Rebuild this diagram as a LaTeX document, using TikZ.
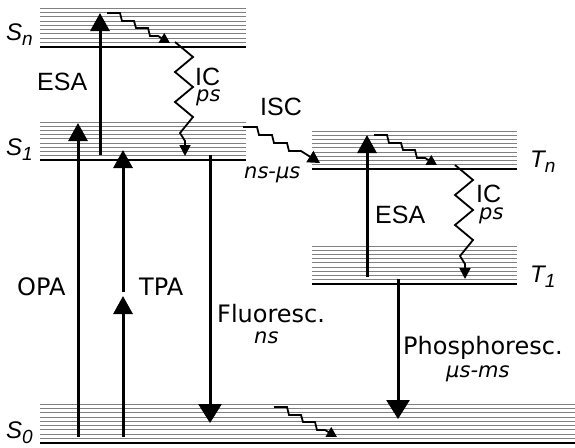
\documentclass[tikz,border=0pt]{standalone}
\usepackage{fontspec}
\setmainfont{DejaVu Sans}
\newfontfamily\helvfont{Liberation Sans}
\usetikzlibrary{arrows.meta}
% energy level with its vibrational sublevels: x left, x right, y of the level
\newcommand{\enlevel}[3]{%
  \foreach \k in {0,...,8}
    \draw[sublevel] (#1,{#3-38+\k*4.22}) -- (#2,{#3-38+\k*4.22});
  \draw[level] (#1,#3) -- (#2,#3);}
% vibrational relaxation staircase
\newcommand{\stairs}[1]{\draw[vibr] #1 -- ++(13,0) -- ++(2,8) -- ++(12,0) -- ++(2,7) -- ++(12,0) -- ++(2,8) -- ++(8,0) -- ++(12,7);}
% internal conversion zigzag
\newcommand{\zigzag}[1]{\draw[icpath] #1 -- ++(18,15) -- ++(-18,15) -- ++(18,15) -- ++(-18,15) -- ++(18,15) -- ++(-13,16) -- ++(5,8) -- ++(0,15);}
\newcommand{\statename}[2]{#1\raisebox{-5pt}{\fontsize{19}{19}\selectfont #2}}
\begin{document}
\begin{tikzpicture}[x=1pt,y=-1pt,
  sublevel/.style={draw=gray,line width=0.9pt},
  level/.style={line width=2pt},
  absorb/.style={line width=3pt,-{Triangle[width=19pt,length=18pt]}},
  emit/.style={line width=3pt,-{Triangle[width=23pt,length=19pt]}},
  vibr/.style={line width=1.8pt,-{Triangle[width=11pt,length=10pt]}},
  icpath/.style={line width=1.8pt,-{Triangle[width=11pt,length=11pt]}},
  helvtext/.style={font=\helvfont\fontsize{25}{29}\selectfont,inner sep=0pt,anchor=base west},
  dvtext/.style={font=\fontsize{24}{28}\selectfont,inner sep=0pt,anchor=base west},
  timetext/.style={font=\itshape\fontsize{21}{25}\selectfont,inner sep=0pt,anchor=base west},
  statetext/.style={font=\helvfont\itshape\fontsize{24}{28}\selectfont,inner sep=0pt,anchor=base west}]
\useasboundingbox (0,0) rectangle (575,447);
% levels
\enlevel{40}{246}{46.5}
\enlevel{40}{246}{160}
\enlevel{40}{575}{442.5}
\enlevel{312}{517}{169}
\enlevel{312}{517}{284}
% state labels
\node[statetext] (sn) at (6,40) {\statename{S}{n}};
\node[statetext] (s1) at (6,155) {\statename{S}{1}};
\node[statetext] (s0) at (6,438) {\statename{S}{0}};
\node[statetext] (tn) at (530,167) {\statename{T}{n}};
\node[statetext] (t1) at (530,282) {\statename{T}{1}};
% radiative transitions
\draw[absorb] (78,437) -- (78,123);
\draw[absorb] (100,155) -- (100,13);
\draw[absorb] (123,437) -- (123,296);
\draw[absorb] (123,292) -- (123,150);
\draw[emit] (210,155) -- (210,423);
\draw[absorb] (367,277) -- (367,135);
\draw[emit] (398,279) -- (398,419);
% non-radiative transitions
\stairs{(107,13)}
\stairs{(374,135)}
\stairs{(274,407)}
\draw[vibr,-{Triangle[width=13pt,length=12pt]}] (243,127) -- ++(14,0) -- ++(2,8) -- ++(13,0) -- ++(2,8) -- ++(13,0) -- ++(2,8) -- ++(12,0) -- (320,163);
\zigzag{(175,42)}
\zigzag{(455,165)}
% labels
\node[helvtext] (esas) at (37,90) {ESA};
\node[helvtext] (ics) at (195,85) {IC};
\node[timetext] (pss) at (196,101) {ps};
\node[helvtext] (isc) at (260,115.5) {ISC};
\node[timetext] (iscps) at (244,178) {ns-µs};
\node[helvtext] (esat) at (375,223) {ESA};
\node[helvtext] (ict) at (476,202) {IC};
\node[timetext] (pst) at (479,219) {ps};
\node[dvtext] (opa) at (17,295) {OPA};
\node[dvtext] (tpa) at (139,295) {TPA};
\node[dvtext] (fluo) at (217,322) {Fluoresc.};
\node[timetext] (fluot) at (254,343) {ns};
\node[dvtext] (phos) at (403,354) {Phosphoresc.};
\node[timetext] (phost) at (446,377) {µs-ms};
\end{tikzpicture}
\end{document}
